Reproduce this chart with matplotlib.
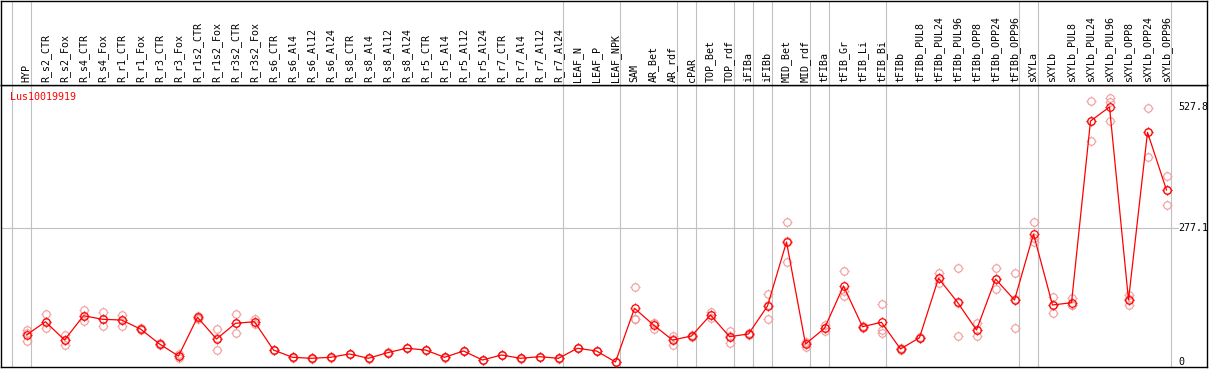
import matplotlib
matplotlib.use("Agg")
from matplotlib import pyplot as plt
from matplotlib import transforms
from matplotlib.path import Path

gene = "Lus10019919"

groups = [
    ["HYP"],
    ["R_s2_CTR", "R_s2_Fox", "R_s4_CTR", "R_s4_Fox", "R_r1_CTR", "R_r1_Fox",
     "R_r3_CTR", "R_r3_Fox", "R_r1s2_CTR", "R_r1s2_Fox", "R_r3s2_CTR", "R_r3s2_Fox",
     "R_s6_CTR", "R_s6_Al4", "R_s6_Al12", "R_s6_Al24",
     "R_s8_CTR", "R_s8_Al4", "R_s8_Al12", "R_s8_Al24",
     "R_r5_CTR", "R_r5_Al4", "R_r5_Al12", "R_r5_Al24",
     "R_r7_CTR", "R_r7_Al4", "R_r7_Al12", "R_r7_Al24"],
    ["LEAF_N", "LEAF_P", "LEAF_NPK"],
    ["SAM", "AR_Bet", "AR_rdf"],
    ["cPAR"],
    ["TOP_Bet", "TOP_rdf"],
    ["iFIBa"],
    ["iFIBb"],
    ["MID_Bet", "MID_rdf"],
    ["tFIBa"],
    ["tFIB_Gr", "tFIB_Li", "tFIB_Bi"],
    ["tFIBb", "tFIBb_PUL8", "tFIBb_PUL24", "tFIBb_PUL96",
     "tFIBb_OPP8", "tFIBb_OPP24", "tFIBb_OPP96"],
    ["sXYLa"],
    ["sXYLb", "sXYLb_PUL8", "sXYLb_PUL24", "sXYLb_PUL96",
     "sXYLb_OPP8", "sXYLb_OPP24", "sXYLb_OPP96"],
]
samples = [s for g in groups for s in g]

mean_expr = [
    56, 83.4, 45.5, 95.8, 88.4, 86.9, 68.3, 37.3, 12.4, 92.5, 47.6, 80.1, 83.4,
    24.8, 9.7, 7.7, 9.7, 16.6, 7.7, 19.3, 28.4, 24.8, 9.7, 22.8, 4.1,
    14.5, 7.7, 11.0, 7.7,
    28.4, 22.8, 0,
    111.2, 76.6, 45.5, 53.8, 97.3, 52.4, 58.0, 115.9, 248.4, 37.3,
    69.8, 157.3, 73.1, 82.2,
    26.9, 50.3, 173.3, 123.6, 66.2, 171.8, 128.3,
    265.0,
    118.0, 122.7, 498.8, 527.8, 128.3, 475.4, 356.0,
]

rep_expr = [
    [66, 59, 43], [99, 83, 70], [56, 46, 35], [108, 96, 85], [104, 88, 75],
    [97, 87, 75], [70, 68, 66], [39, 37, 35], [17, 12, 8], [95, 92, 90],
    [68, 50, 25], [99, 80, 61], [89, 83, 79],
    [25, 25, 24], [10, 10, 9], [8, 8, 7], [10, 10, 9],
    [17, 17, 16], [8, 8, 7], [20, 19, 19], [29, 28, 28],
    [25, 25, 24], [10, 10, 9], [23, 23, 22], [5, 4, 4],
    [15, 14, 14], [8, 8, 7], [11, 11, 11], [8, 8, 7],
    [29, 28, 28], [23, 23, 22], [1, 0, 0],
    [156, 89, 89], [81, 81, 68], [54, 47, 35], [56, 53, 52],
    [103, 98, 91], [64, 54, 39], [60, 58, 56], [140, 119, 88],
    [289, 250, 206], [41, 40, 31],
    [77, 70, 64], [188, 147, 137], [75, 73, 71], [121, 66, 60],
    [28, 27, 25], [52, 50, 49], [184, 173, 163], [194, 123, 54],
    [80, 66, 54], [194, 171, 151], [184, 131, 70],
    [289, 249, 257],
    [135, 118, 101], [132, 118, 118], [541, 499, 457], [546, 539, 499],
    [139, 130, 117], [525, 476, 425], [386, 356, 324],
]

scale_ticks = [0, 277.1, 527.8]

MONO = "DejaVu Sans Mono"
GRID = "#c0c0c0"
PINK = "#f09a9a"


def stub_marker():
    # four short ticks around the ring, like the old bitmap marker
    verts, codes = [], []
    for dx, dy in [(0, 1), (0, -1), (1, 0), (-1, 0)]:
        verts += [(dx * 0.72, dy * 0.72), (dx, dy)]
        codes += [Path.MOVETO, Path.LINETO]
    return Path(verts, codes)


def draw_points(ax, xs, ys, edge, mew, z, **line):
    ax.plot(xs, ys, marker="o", ms=5.4, mfc="none", mec=edge, mew=mew,
            zorder=z, **line)
    ax.plot(xs, ys, ls="none", marker=stub_marker(), ms=7.6, mec=edge,
            mew=mew, zorder=z)


def main():
    W, H = 1209, 370
    fig = plt.figure(figsize=(W / 100, H / 100), dpi=100)

    # pixel geometry of the two panels
    left_px, right_px = 1, 1207
    head_top, split, bottom_px = 0.5, 85, 367
    x0, step = 26.5, 19.0
    xlim = ((left_px - x0) / step, (right_px - x0) / step)

    ax = fig.add_axes([left_px / W, (H - bottom_px) / H,
                       (right_px - left_px) / W, (bottom_px - split) / H])
    head = fig.add_axes([left_px / W, (H - split) / H,
                         (right_px - left_px) / W, (split - head_top) / H])

    px_per_unit = (362 - 107) / 527.8
    ax.set_ylim(-(bottom_px - 362) / px_per_unit, (362 - split) / px_per_unit)
    for a in (ax, head):
        a.set_xlim(*xlim)
        a.set_xticks([])
        a.set_yticks([])
        for sp in a.spines.values():
            sp.set_color("black")
            sp.set_linewidth(1.0)
    head.set_ylim(0, 1)

    # group separators
    ends = []
    n = 0
    for g in groups:
        n += len(g)
        ends.append(n - 1)
    for k in [-1] + ends:
        for a in (ax, head):
            a.axvline(k + 0.24, color=GRID, lw=0.8, zorder=0)

    right_frac = (1178 - left_px) / (right_px - left_px)
    ax.axhline(scale_ticks[1], xmin=0, xmax=right_frac, color=GRID, lw=0.8, zorder=0)

    xs = list(range(len(samples)))
    for j in range(3):
        draw_points(ax, xs, [r[j] for r in rep_expr], PINK, 0.8, 2, ls="none")
    draw_points(ax, xs, mean_expr, "red", 0.9, 3, color="red", lw=0.9)

    # sample names, vertical
    for i, name in enumerate(samples):
        head.text(i, 3 / (split - head_top), name, rotation=90, ha="center",
                  va="bottom", family=MONO, fontsize=7.2, color="black")

    ax.text((10 - left_px) / (right_px - left_px), 1 - 12 / (bottom_px - split),
            gene, transform=ax.transAxes, family=MONO, fontsize=7.2,
            color="red", ha="left", va="center")

    trans = transforms.blended_transform_factory(ax.transAxes, ax.transData)
    for v in scale_ticks:
        ax.text(right_frac, v, f"{v:g}", transform=trans, family=MONO,
                fontsize=7.2, color="black", ha="left", va="center")

    fig.savefig("out.png", dpi=100, facecolor="white")


if __name__ == "__main__":
    main()
